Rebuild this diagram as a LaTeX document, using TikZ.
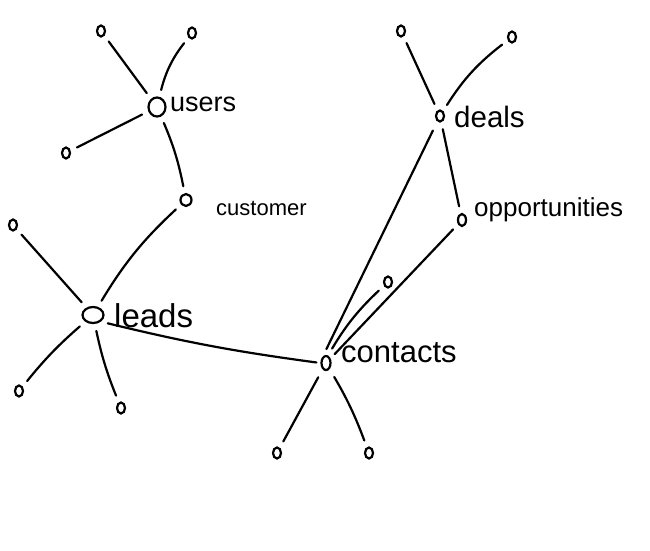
\documentclass[tikz,border=0pt]{standalone}
\usepackage{fontspec}
\setmainfont{Liberation Sans}
\usetikzlibrary{shapes.geometric}
\begin{document}
\begin{tikzpicture}[x=1pt,y=-1pt,
  every node/.style={inner sep=0pt},
  ring/.style={draw,ellipse,line width=2.2pt},
  leaf/.style={ring,minimum width=8pt,minimum height=11pt},
  lbl/.style={anchor=west,font=\fontsize{#1}{#1}\selectfont},
  edge/.style={line width=2.2pt,line cap=round,shorten <=7pt,shorten >=7pt}]
\useasboundingbox (0,0) rectangle (650,550);
% hubs
\node[ring,minimum width=17pt,minimum height=19pt] (users) at (157,107) {};
\node[ring,minimum width=11pt,minimum height=12pt] (customer) at (186,200) {};
\node[ring,minimum width=21pt,minimum height=16pt] (leads) at (93,315) {};
\node[ring,minimum width=9pt,minimum height=14pt] (contacts) at (326,363) {};
\node[ring,minimum width=8pt,minimum height=11pt] (deals) at (440,116) {};
\node[ring,minimum width=8pt,minimum height=12pt] (opps) at (462,220) {};
% labels
\node[lbl=27] (tusers) at (170,104) {users};
\node[lbl=22] (tcustomer) at (216,208) {customer};
\node[lbl=33] (tleads) at (114,316) {leads};
\node[lbl=31] (tcontacts) at (341,353) {contacts};
\node[lbl=29.5] (tdeals) at (454,117) {deals};
\node[lbl=26] (topps) at (474,210) {opportunities};
% leaves
\node[leaf] (u1) at (101,31) {};
\node[leaf] (u2) at (192,33) {};
\node[leaf] (u3) at (66,153) {};
\node[leaf] (l1) at (13,225) {};
\node[leaf] (l2) at (19,391) {};
\node[leaf] (l3) at (121,408) {};
\node[leaf] (c1) at (388,282) {};
\node[leaf] (c2) at (277,453) {};
\node[leaf] (c3) at (369,453) {};
\node[leaf] (d1) at (401,31) {};
\node[leaf] (d2) at (512,37) {};
% edges
\draw[edge] (u1) -- (users);
\draw[edge] (u2) to[bend right=12] (users);
\draw[edge] (u3) -- (users);
\draw[edge] (users) to[bend left=6] (customer);
\draw[edge] (customer) to[bend right=8] (leads);
\draw[edge] (l1) -- (leads);
\draw[edge] (l2) to[bend left=5] (leads);
\draw[edge] (l3) to[bend left=5] (leads);
\draw[edge,shorten >=4pt] (leads.-40) to[bend right=3] (contacts.west);
\draw[edge,shorten >=8pt,shorten <=10pt] (deals) -- (contacts.115);
\draw[edge,shorten >=8pt] (c1) to[bend right=8] (contacts.75);
\draw[edge,shorten >=6pt] (opps) -- (contacts.45);
\draw[edge,shorten <=9pt] (contacts) -- (c2);
\draw[edge,shorten <=9pt] (contacts) to[bend left=5] (c3);
\draw[edge] (d1) -- (deals);
\draw[edge] (d2) to[bend right=10] (deals);
\draw[edge] (deals) -- (opps);
\end{tikzpicture}
\end{document}
